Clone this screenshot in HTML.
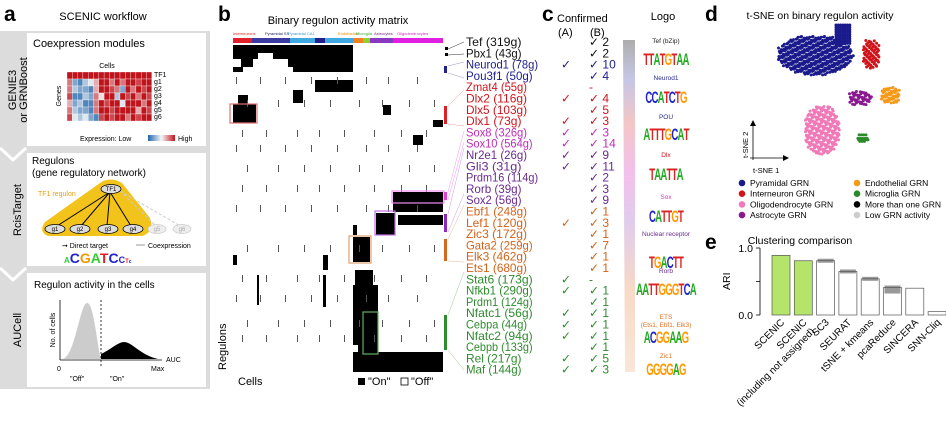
<!DOCTYPE html>
<html><head><meta charset="utf-8"><style>
html,body{margin:0;padding:0;background:#fff;}
svg{display:block;font-family:"Liberation Sans",Arial,sans-serif;}
</style></head><body>
<svg id="fig" width="946" height="421" viewBox="0 0 946 421" xmlns="http://www.w3.org/2000/svg">
<defs>
<linearGradient id="exg" x1="0" x2="1"><stop offset="0" stop-color="#2166ac"/><stop offset="0.5" stop-color="#f7f7f7"/><stop offset="1" stop-color="#c0141c"/></linearGradient>
<linearGradient id="wedge" x1="0" x2="0" y1="0" y2="1">
<stop offset="0" stop-color="#999"/><stop offset="0.12" stop-color="#b8b8e0"/><stop offset="0.25" stop-color="#f0b8b8"/><stop offset="0.4" stop-color="#f0b0e8"/><stop offset="0.55" stop-color="#d8c0e8"/><stop offset="0.75" stop-color="#f5d0b8"/><stop offset="1" stop-color="#f8e0d0"/></linearGradient>
</defs>

<!-- Panel a -->
<g>
<text x="4" y="21" font-size="21" font-weight="bold">a</text>
<text x="103" y="20" font-size="11" text-anchor="middle">SCENIC workflow</text>
<rect x="0" y="31" width="210" height="358" fill="#dcdcdc"/>
<rect x="27" y="33" width="179" height="113" fill="#fff"/>
<rect x="27" y="153" width="179" height="113" fill="#fff"/>
<rect x="27" y="273" width="179" height="114" fill="#fff"/>
<polyline points="0,148 13,160 26,148" fill="none" stroke="#fff" stroke-width="3"/>
<polyline points="0,268 13,280 26,268" fill="none" stroke="#fff" stroke-width="3"/>
<text transform="translate(16,90) rotate(-90)" font-size="11" text-anchor="middle">GENIE3</text>
<text transform="translate(27,90) rotate(-90)" font-size="11" text-anchor="middle">or GRNBoost</text>
<text transform="translate(21,210) rotate(-90)" font-size="11" text-anchor="middle">RcisTarget</text>
<text transform="translate(21,330) rotate(-90)" font-size="11" text-anchor="middle">AUCell</text>

<text x="33" y="47" font-size="11">Coexpression modules</text>
<text x="107" y="68" font-size="7" text-anchor="middle">Cells</text>
<text transform="translate(61,96) rotate(-90)" font-size="7" text-anchor="middle">Genes</text>
<g id="exprHeat"></g>
<g font-size="7">
<text x="154" y="77">TF1</text><text x="154" y="84">g1</text><text x="154" y="91">g2</text><text x="154" y="98">g3</text><text x="154" y="105">g4</text><text x="154" y="112">g5</text><text x="154" y="119">g6</text></g>
<text x="80" y="141" font-size="7">Expression:  Low</text>
<rect x="148" y="135" width="27" height="6" fill="url(#exg)"/>
<text x="178" y="141" font-size="7">High</text>

<text x="32" y="164" font-size="10">Regulons</text>
<text x="32" y="176" font-size="10">(gene regulatory network)</text>
<path d="M100,183 Q110,176 122,183 L150,218 Q155,232 142,236 L48,236 Q38,232 45,222 Z" fill="#f2c31a"/>
<text x="38" y="196" font-size="7" fill="#e8a010">TF1 regulon</text>
<g stroke="#ccc" stroke-width="1" stroke-dasharray="3,2"><line x1="120" y1="191" x2="157" y2="227"/><line x1="120" y1="191" x2="182" y2="227"/></g>
<g stroke="#000" stroke-width="1"><line x1="110" y1="192" x2="57" y2="226"/><line x1="110" y1="192" x2="81" y2="226"/><line x1="110" y1="192" x2="107" y2="226"/><line x1="110" y1="192" x2="131" y2="226"/></g>
<g font-size="6" text-anchor="middle">
<ellipse cx="111" cy="189" rx="10" ry="4.5" fill="#ddd" stroke="#000" stroke-width="0.8"/><text x="111" y="191">TF1</text>
<ellipse cx="55" cy="229" rx="10" ry="4.5" fill="#ddd" stroke="#000" stroke-width="0.8"/><text x="55" y="231">g1</text>
<ellipse cx="80" cy="229" rx="10" ry="4.5" fill="#ddd" stroke="#000" stroke-width="0.8"/><text x="80" y="231">g2</text>
<ellipse cx="108" cy="229" rx="10" ry="4.5" fill="#ddd" stroke="#000" stroke-width="0.8"/><text x="108" y="231">g3</text>
<ellipse cx="133" cy="229" rx="10" ry="4.5" fill="#ddd" stroke="#000" stroke-width="0.8"/><text x="133" y="231">g4</text>
<ellipse cx="157" cy="229" rx="9" ry="4.5" fill="#eee" stroke="#ccc" stroke-width="0.8"/><text x="157" y="231" fill="#aaa">g5</text>
<ellipse cx="182" cy="229" rx="9" ry="4.5" fill="#eee" stroke="#ccc" stroke-width="0.8"/><text x="182" y="231" fill="#aaa">g6</text></g>
<text x="62" y="248" font-size="7">➞ Direct target</text>
<line x1="136" y1="245" x2="145" y2="245" stroke="#bbb" stroke-width="1.5"/><text x="148" y="248" font-size="7">Coexpression</text>
<text x="64" y="263" font-size="14" font-weight="bold"><tspan fill="#3c3" font-size="8">A</tspan><tspan fill="#22c">C</tspan><tspan fill="#e90">G</tspan><tspan fill="#3c3">A</tspan><tspan fill="#d22">T</tspan><tspan fill="#22c">C</tspan><tspan fill="#22c" font-size="9">C</tspan><tspan fill="#d22" font-size="6">T</tspan><tspan fill="#22c" font-size="5">c</tspan></text>

<text x="34" y="288" font-size="10">Regulon activity in the cells</text>
<path d="M62,359 C75,358 80,303 87,303 C94,303 97,345 101,359 Z" fill="#ccc"/>
<path d="M101,359 L101,354 C110,350 118,342 124,342 C132,342 140,355 158,359 Z" fill="#000"/>
<line x1="101" y1="300" x2="101" y2="368" stroke="#000" stroke-width="0.8" stroke-dasharray="2,2"/>
<line x1="60" y1="300" x2="60" y2="360" stroke="#000" stroke-width="0.8"/>
<line x1="60" y1="360" x2="162" y2="360" stroke="#000" stroke-width="0.8"/>
<text transform="translate(55,330) rotate(-90)" font-size="7" text-anchor="middle">No. of cells</text>
<text x="166" y="362" font-size="7">AUC</text>
<text x="57" y="371" font-size="7">0</text><text x="151" y="371" font-size="7">Max</text>
<text x="70" y="381" font-size="7">"Off"</text><text x="110" y="381" font-size="7">"On"</text>
</g>

<!-- Panel b -->
<g>
<text x="218" y="21" font-size="21" font-weight="bold">b</text>
<text x="338" y="24" font-size="11" text-anchor="middle">Binary regulon activity matrix</text>
<g font-size="4">
<text x="233" y="35" fill="#d22">Interneurons</text><text x="265" y="35" fill="#226">Pyramidal SS</text><text x="288" y="35" fill="#39c">Pyramidal CA1</text><text x="338" y="35" fill="#e80">Endothelial</text><text x="356" y="35" fill="#3a3">Microglia</text><text x="374" y="35" fill="#728">Astrocytes</text><text x="397" y="35" fill="#c2c">Oligodendrocytes</text></g>
<g id="typeBar"></g>
<g id="binHeat"></g>
<g fill="none" stroke-width="1.2">
<rect x="230" y="104" width="27" height="19" stroke="#e07070"/>
<rect x="392" y="191" width="52" height="12" stroke="#f08ef0"/>
<rect x="375" y="211" width="20" height="24" stroke="#c070e0"/>
<rect x="349" y="236" width="22" height="27" stroke="#e0a070"/>
<rect x="363" y="312" width="15" height="42" stroke="#60b060"/></g>
<g>
<rect x="445" y="47" width="3" height="3"/><rect x="445" y="53" width="3" height="3"/>
<rect x="444" y="66" width="3" height="7" fill="#22228c"/>
<rect x="444" y="106" width="3" height="18" fill="#d22"/>
<rect x="444" y="192" width="3" height="8" fill="#e040d0"/>
<rect x="444" y="214" width="3" height="18" fill="#8a2ac0"/>
<rect x="444" y="239" width="3" height="22" fill="#d2691e"/>
<rect x="444" y="315" width="3" height="35" fill="#2e8b2e"/></g>
<g stroke-width="0.5" fill="none">
<line x1="448" y1="49" x2="464" y2="42" stroke="#333"/><line x1="448" y1="55" x2="464" y2="54" stroke="#333"/>
<line x1="448" y1="66" x2="464" y2="62" stroke="#99c"/><line x1="448" y1="73" x2="464" y2="78" stroke="#99c"/>
<line x1="448" y1="106" x2="464" y2="90" stroke="#e99"/><line x1="448" y1="124" x2="464" y2="126" stroke="#e99"/>
<line x1="448" y1="192" x2="464" y2="131" stroke="#e9e"/><line x1="448" y1="200" x2="464" y2="142" stroke="#e9e"/>
<line x1="448" y1="214" x2="464" y2="148" stroke="#c9e"/><line x1="448" y1="232" x2="464" y2="194" stroke="#c9e"/>
<line x1="448" y1="239" x2="464" y2="205" stroke="#eb9"/><line x1="448" y1="261" x2="464" y2="262" stroke="#eb9"/>
<line x1="448" y1="315" x2="464" y2="272" stroke="#9c9"/><line x1="448" y1="350" x2="464" y2="370" stroke="#9c9"/></g>
<text transform="translate(226,370) rotate(-90)" font-size="11">Regulons</text>
<text x="238" y="385" font-size="11">Cells</text>
<rect x="358" y="378" width="7" height="7" fill="#000"/>
<text x="368" y="385" font-size="11">"On"</text>
<rect x="401" y="378" width="7" height="7" fill="#fff" stroke="#000" stroke-width="0.8"/>
<text x="411" y="385" font-size="11">"Off"</text>
</g>

<!-- Panel c -->
<g>
<text x="542" y="21" font-size="21" font-weight="bold">c</text>
<text x="557" y="22" font-size="11">Confirmed</text>
<text x="558" y="36" font-size="11">(A)</text><text x="590" y="36" font-size="11">(B)</text>
<text x="663" y="20" font-size="11" text-anchor="middle">Logo</text>
<g id="regTable"></g>
<polygon points="623,40 635,40 635,372 625,372" fill="url(#wedge)" opacity="0.8"/>
<g id="logos"></g>
</g>

<!-- Panel d -->
<g>
<text x="705" y="21" font-size="21" font-weight="bold">d</text>
<text x="820" y="19" font-size="10.5" text-anchor="middle">t-SNE on binary regulon activity</text>
<g id="tsne"></g>
<line x1="753" y1="160" x2="753" y2="124" stroke="#000" stroke-width="0.8"/><polygon points="750,126 756,126 753,120"/>
<line x1="750" y1="158" x2="785" y2="158" stroke="#000" stroke-width="0.8"/><polygon points="783,155 783,161 789,158"/>
<text transform="translate(748,158) rotate(-90)" font-size="7.5">t-SNE 2</text>
<text x="753" y="173" font-size="7.5">t-SNE 1</text>
<g id="tsneLegend"></g>
</g>

<!-- Panel e -->
<g>
<text x="705" y="249" font-size="21" font-weight="bold">e</text>
<text x="800" y="244" font-size="10.5" text-anchor="middle">Clustering comparison</text>
<g id="ari"></g>
</g>
</svg>

<script>
const NS='http://www.w3.org/2000/svg';
function mk(tag,attrs,parent){const e=document.createElementNS(NS,tag);for(const k in attrs)e.setAttribute(k,attrs[k]);parent.appendChild(e);return e;}

// ---- panel a expression heatmap ----
const exprRows=[
 "9999999999999999",
 "7213469979799899",
 "7322169987297989",
 "8113275993989798",
 "6231179899499979",
 "7322179989999698",
 "8434218989979899"];
(function(){const g=document.getElementById('exprHeat');const x0=67,y0=72,cw=5.3,ch=7;
function col(v){const t=v/9;const b=[33,102,172],w=[247,247,247],r=[192,20,28];let c;
 if(t<0.5){const u=t/0.5;c=b.map((bv,i)=>bv+(w[i]-bv)*u);}else{const u=(t-0.5)/0.5;c=w.map((wv,i)=>wv+(r[i]-wv)*u);}
 return 'rgb('+c.map(Math.round).join(',')+')';}
exprRows.forEach((row,ri)=>{[...row].forEach((ch_,ci)=>{const r=mk('rect',{x:x0+ci*cw,y:y0+ri*ch,width:cw,height:ch,fill:col(+ch_),stroke:'#fff','stroke-width':0.3},g);

});});})();

// ---- panel b ----
const typeNames=['interneuron','pyramidal-ss','pyramidal-ca1','pyramidal-ss-2','pyramidal-ca1-2','endothelial','microglia','astrocyte','oligodendrocyte'];
const typeStart=[0,19,57,82,92,120,130,137,160];
const typeEnd=[19,57,82,92,120,130,137,160,210];
const typeColor=['#e0202a','#3a3aa0','#40a8e0','#20208a','#40a8e0','#f08020','#90d030','#8a3ac0','#e020e0'];
const onBlocks=[
 [0,120,0,8],[0,25,8,14],[40,120,8,14],[8,20,14,22],[55,120,14,22],[0,10,22,27],[60,120,22,27],
 [82,120,35,47],[0,23,59,78],[5,15,50,60],[60,70,45,58],
 [160,210,147,167],[165,210,170,180],[143,162,168,190],[120,137,192,217],
 [122,140,225,240],[120,145,240,300],[130,145,265,309],[120,210,307,327],[125,132,300,310],
 [150,158,60,70],[180,190,90,100],[200,210,75,82],[120,124,180,190],[90,95,210,225],[0,4,210,220],
 [24,26,230,260],[90,93,230,262]];
(function(){const X0=233,Y0=45,SW=1,SH=1;
const tb=document.getElementById('typeBar');
typeStart.forEach((s,i)=>{const r=mk('rect',{x:X0+s*SW,y:38,width:(typeEnd[i]-s)*SW,height:5,fill:typeColor[i]},tb);

});
const g=document.getElementById('binHeat');
onBlocks.forEach(b=>{const r=mk('rect',{x:X0+b[0]*SW,y:Y0+b[2]*SH,width:(b[1]-b[0])*SW,height:(b[3]-b[2])*SH,fill:'#000'},g);

});
const tickCols=[3,9,14,27,33,45,52,64,71,78,86,97,104,111,126,133,141,149,155,168,176,184,193,201];
const tickRows=[32,55,85,100,120,140,160,200,230,250,275,290];
tickRows.forEach((rw,ri)=>{tickCols.forEach((c,ci)=>{if((ci+ri)%3===0){const r=mk('rect',{x:X0+c,y:Y0+rw,width:1,height:7,fill:'#555'},g);

}});});
})();

// ---- panel c table ----
const regNames=['Tef (319g)','Pbx1 (43g)','Neurod1 (78g)','Pou3f1 (50g)','Zmat4 (55g)','Dlx2 (116g)','Dlx5 (103g)','Dlx1 (73g)','Sox8 (326g)','Sox10 (564g)','Nr2e1 (26g)','Gli3 (31g)','Prdm16 (114g)','Rorb (39g)','Sox2 (56g)','Ebf1 (248g)','Lef1 (120g)','Zic3 (172g)','Gata2 (259g)','Elk3 (462g)','Ets1 (680g)','Stat6 (173g)','Nfkb1 (290g)','Prdm1 (124g)','Nfatc1 (56g)','Cebpa (44g)','Nfatc2 (94g)','Cebpb (133g)','Rel (217g)','Maf (144g)'];
const regGroup=[0,0,1,1,2,2,2,2,3,3,4,4,4,4,4,5,5,5,5,5,5,6,6,6,6,6,6,6,6,6];
const groupColor=['#111','#1c1c8c','#d0141c','#c02cb8','#6a2a90','#d2621a','#2e8b2e'];
const confirmedA=[0,0,1,0,0,1,0,1,1,1,1,1,0,0,0,0,1,0,0,0,0,1,1,0,1,1,1,0,1,1];
const confirmedB=['2','2','10','4','-','4','5','3','3','14','9','11','2','3','9','1','3','1','7','1','1','-','1','1','1','1','1','1','5','3'];
(function(){const g=document.getElementById('regTable');const y0=46,dy=11.3;
regNames.forEach((n,i)=>{const y=y0+i*dy,c=groupColor[regGroup[i]];
const t=mk('text',{x:466,y:y,'font-size':12,fill:c,textLength:(n.length*5.55).toFixed(1),lengthAdjust:'spacingAndGlyphs'},g);t.textContent=n;


if(confirmedA[i]){const a=mk('text',{x:561,y:y,'font-size':12,fill:c},g);a.textContent='✓';

}
const b=mk('text',{x:589,y:y,'font-size':12,fill:c},g);b.textContent=confirmedB[i]==='-'?'   -':'✓ '+confirmedB[i];

});})();

// logos
const logoTitles=['Tef (bZip)','Neurod1','POU','Dlx','Sox','Nuclear receptor','Rorb','ETS','Zic1'];
const logoTitleColor=['#222','#2a2a90','#2a2a90','#d0141c','#d040c0','#6a2a90','#6a2a90','#e07020','#e07020'];
const logoSeq=['TTATGTAA','CCATCTG','ATTTGCAT','TAATTA','CATTGT','TGACTT','AATTGGGTCA','ACGGAAG','GGGGAG'];
const logoTitleY=[43,80,119,157,199,236,273,319,358];
const logoSeqY=[65,103,140,180,222,268,295,343,375];
(function(){const g=document.getElementById('logos');const cc={A:'#2a2',C:'#22c',G:'#f90',T:'#d22'};
logoTitles.forEach((t,i)=>{const tt=mk('text',{x:666,y:logoTitleY[i],'font-size':6.5,'text-anchor':'middle',fill:logoTitleColor[i]},g);tt.textContent=t;


const s=mk('text',{x:0,y:0,'font-size':12,'font-weight':'bold','text-anchor':'middle','letter-spacing':'-1',transform:'translate(666,'+logoSeqY[i]+') scale(0.8,1.4)'},g);


[...logoSeq[i]].forEach(ch=>{const sp=mk('tspan',{fill:cc[ch]},s);sp.textContent=ch;});});
const e2=mk('text',{x:666,y:327,'font-size':6.5,'text-anchor':'middle',fill:'#e07020'},g);e2.textContent='(Ets1, Ebf1, Elk3)';

})();

// ---- panel d t-SNE ----
const clusterNames=['pyramidal','interneuron','oligodendrocyte','astrocyte','endothelial','microglia'];
const clusterColor=['#1a1a8c','#d0141c','#f07ab8','#8a1a90','#f39a1a','#2a8a2a'];
const clusterCx=[815,871,822,860,890,862];
const clusterCy=[55,54,130,98,95,138];
const clusterRx=[38,9,18,12,10,6];
const clusterRy=[20,15,25,8,9,5];
(function(){const g=document.getElementById('tsne');
function pt(x,y,k){const c=mk('circle',{cx:x,cy:y,r:1.5,fill:clusterColor[k]},g);
 
 }
clusterCx.forEach((cx,k)=>{const step=2.3;let n=0;
for(let dx=-clusterRx[k];dx<=clusterRx[k];dx+=step)for(let dy=-clusterRy[k];dy<=clusterRy[k];dy+=step){n++;
 const ox=((n*7)%5-2)*0.4,oy=((n*3)%5-2)*0.4;
 if((dx/clusterRx[k])**2+(dy/clusterRy[k])**2>1)continue;
 pt(cx+dx+ox,clusterCy[k]+dy+oy,k);}});
for(let y=25;y<45;y+=2.3)for(let x=836;x<852;x+=2.3)pt(x,y,0);
const lg=document.getElementById('tsneLegend');
const legLabels=['Pyramidal GRN','Interneuron GRN','Oligodendrocyte GRN','Astrocyte GRN','Endothelial GRN','Microglia GRN','More than one GRN','Low GRN activity'];
const legColors=['#1a1a8c','#d0141c','#f07ab8','#8a1a90','#f39a1a','#2a8a2a','#000','#ccc'];
legLabels.forEach((l,i)=>{const col=Math.floor(i/4),row=i%4;const x=col?857:742,y=186+row*10.7;
const c=mk('circle',{cx:x,cy:y-3,r:3.3,fill:legColors[i]},lg);
const t=mk('text',{x:x+8,y:y,'font-size':8.5},lg);t.textContent=l;});})();

// ---- panel e ARI bars ----
const methods=['SCENIC','SCENIC (including not assigned)','SC3','SEURAT','tSNE + kmeans','pcaReduce','SINCERA','SNN-Cliq'];
const ariValues=[0.89,0.81,0.81,0.65,0.54,0.41,0.40,0.05];
const yTicks=[0,0.5,1.0];
const yTickLabels=['0.0','','1.0'];
(function(){const g=document.getElementById('ari');const y=v=>315-67*v;const bx=i=>772+i*22.3,bw=18;
mk('line',{x1:760,y1:y(0),x2:760,y2:y(1),stroke:'#000','stroke-width':0.8},g);
yTicks.forEach((t,i)=>{mk('line',{x1:756,y1:y(t),x2:760,y2:y(t),stroke:'#000','stroke-width':0.8},g);
if(yTickLabels[i]){const tx=mk('text',{x:753,y:y(t)+4,'font-size':10.5,'text-anchor':'end'},g);tx.textContent=yTickLabels[i];
}});
const at=mk('text',{transform:'translate(730,290) rotate(-90)','font-size':10.5},g);at.textContent='ARI';

ariValues.forEach((v,i)=>{const r=mk('rect',{x:bx(i),y:y(v),width:bw,height:y(0)-y(v),fill:i<2?'#b5e46a':'#fff',stroke:'#555','stroke-width':0.7},g);

if(i>=2&&i<=5){const d=mk('rect',{x:bx(i)+1,y:y(v)-2,width:bw-2,height:i===5?8:4,fill:'#555',opacity:0.6},g);
}
const cx=bx(i)+bw/2+4,ty=323;const lines=methods[i]==='SCENIC (including not assigned)'?['SCENIC','(including not assigned)']:[methods[i]];
lines.forEach((ln,j)=>{const t=mk('text',{transform:'translate('+(cx+j*8)+','+(ty+j*9)+') rotate(-45)','font-size':10,'text-anchor':'end'},g);t.textContent=ln;
});});})();
</script>
</body></html>
